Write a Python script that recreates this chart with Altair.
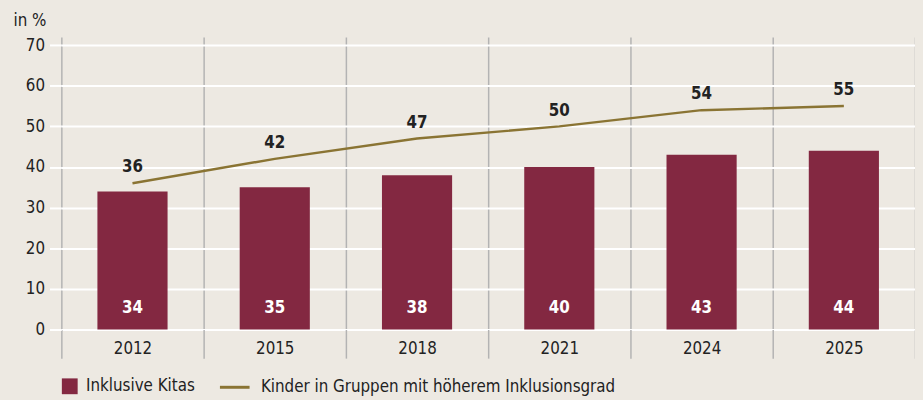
import altair as alt
import pandas as pd

years = ["2012", "2015", "2018", "2021", "2024", "2025"]
inklusive_kitas = [34, 35, 38, 40, 43, 44]
kinder_gruppen = [36, 42, 47, 50, 54, 55]
series_bar = "Inklusive Kitas"
series_line = "Kinder in Gruppen mit höherem Inklusionsgrad"
y_ticks = [0, 10, 20, 30, 40, 50, 60, 70]

FONT = "DejaVu Sans Condensed, DejaVu Sans, sans-serif"
FS = 17
BG = "#ede9e2"
BAR = "#832841"
LINE = "#8a7433"
TXT = "#222222"

# page background in the same colour as the chart background
try:
    import altair.utils.html as _html
    _orig_template = _html.TEMPLATES["standard"]

    class _BgTemplate:
        def render(self, *args, **kwargs):
            out = _orig_template.render(*args, **kwargs)
            css = "<style>html,body{background:%s;overflow:hidden;}</style>" % BG
            return out.replace("<head>", "<head>" + css, 1)

    _html.TEMPLATES["standard"] = _BgTemplate()
except Exception:
    pass

df = pd.DataFrame({
    "year": years,
    "kitas": inklusive_kitas,
    "kinder": kinder_gruppen,
    "s_bar": [series_bar] * len(years),
    "s_line": [series_line] * len(years),
})

x = alt.X("year:N", sort=years, title=None,
          scale=alt.Scale(paddingInner=0, paddingOuter=0),
          axis=alt.Axis(labelAngle=0, tickBand="extent", grid=True, gridColor="#b3b3b3",
                        gridWidth=1.5, tickSize=29, tickColor="#b3b3b3", tickWidth=1.5,
                        domain=False, labelPadding=-18, labelFontSize=FS, labelFont=FONT,
                        labelColor=TXT))

yscale = alt.Scale(domain=[0, 72], nice=False, zero=True)
yaxis = alt.Axis(values=y_ticks, title="in %", titleAngle=0, titleAlign="left",
                 titleBaseline="alphabetic", titleX=-49, titleY=-12, titleFontSize=FS,
                 titleFont=FONT, titleFontWeight="normal", titleColor=TXT,
                 grid=True, gridColor="white", gridWidth=2, tickColor="white", tickWidth=2,
                 tickSize=12, domain=False, labelPadding=5, labelFontSize=FS, labelFont=FONT,
                 labelColor=TXT)

base = alt.Chart(df)

bars = base.mark_bar(size=71).encode(
    x=x,
    y=alt.Y("kitas:Q", scale=yscale, axis=yaxis),
    fill=alt.Fill("s_bar:N", scale=alt.Scale(domain=[series_bar], range=[BAR]),
                  legend=alt.Legend(title=None, orient="none", legendX=0, legendY=345,
                                    symbolType="square", symbolSize=256, symbolStrokeWidth=0,
                                    labelFontSize=FS, labelFont=FONT, labelColor=TXT,
                                    labelOffset=8, labelLimit=600)),
)

bar_text = base.mark_text(dy=-22, baseline="middle", color="white", fontWeight="bold",
                          fontSize=FS, font=FONT).encode(
    x=x, y=alt.datum(0), text="kitas:Q")

line = base.mark_line(strokeWidth=2.5).encode(
    x=x,
    y=alt.Y("kinder:Q"),
    stroke=alt.Stroke("s_line:N", scale=alt.Scale(domain=[series_line], range=[LINE]),
                      legend=alt.Legend(title=None, orient="none", legendX=159, legendY=338,
                                        symbolType="stroke", symbolSize=900,
                                        symbolStrokeWidth=3, labelFontSize=FS, labelFont=FONT,
                                        labelColor=TXT, labelOffset=10, labelLimit=600)),
)

line_text = base.mark_text(dy=-16, baseline="middle", color=TXT, fontWeight="bold",
                           fontSize=FS, font=FONT).encode(
    x=x, y=alt.Y("kinder:Q"), text="kinder:Q")

chart = alt.layer(bars, bar_text, line, line_text).properties(
    width=864, height=296,
    background=BG,
    autosize=alt.AutoSizeParams(type="none"),
    padding={"left": 54, "top": 27, "right": 0, "bottom": 70},
).configure_view(strokeWidth=0)

chart.save("out.html", embed_options={"renderer": "svg", "actions": False})
